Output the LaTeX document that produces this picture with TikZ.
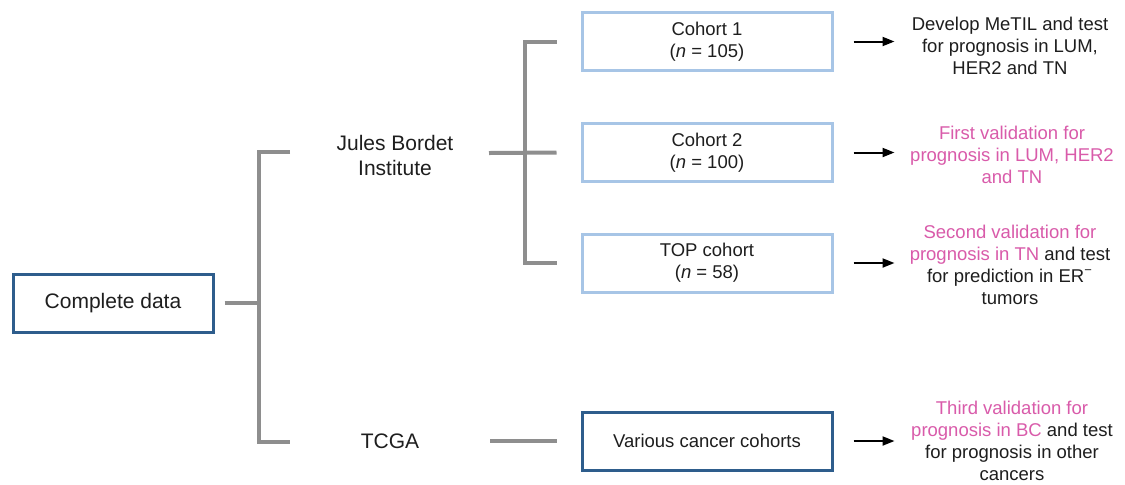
\documentclass[tikz,border=0pt]{standalone}
\usepackage{fontspec}
\setmainfont{Liberation Sans}
\usetikzlibrary{arrows.meta}
\definecolor{bg}{HTML}{FFFFFF}
\definecolor{stemgray}{HTML}{8E8E8E}
\definecolor{darkblue}{HTML}{2E5D8C}
\definecolor{lightblue}{HTML}{A7C5E6}
\definecolor{pinktext}{HTML}{D95BAA}
\definecolor{ink}{HTML}{1E1E1E}
\tikzset{
  stem/.style={draw=stemgray, line width=2pt},
  darkbox/.style={draw=darkblue, line width=1.5pt, minimum height=29pt, inner sep=0pt, align=center, text=ink},
  lightbox/.style={draw=lightblue, line width=1.5pt, minimum width=125pt, minimum height=29pt, inner sep=0pt, align=center, text=ink},
  big/.style={font=\fontsize{10.5}{12.5}\selectfont, text=ink, align=center, inner sep=0pt},
  small/.style={font=\fontsize{9.25}{11}\selectfont},
  note/.style={small, text=ink, align=center, inner sep=0pt},
  arr/.style={draw=black, line width=1pt, -{Triangle[length=6pt,width=4.5pt]}},
}

\begin{document}
\begin{tikzpicture}[x=0.5pt,y=-0.5pt]
  \useasboundingbox[fill=bg] (0,0) rectangle (1125,484);

  % left box and source labels
  \node[darkbox, big, minimum width=100pt] (cd) at (113,303) {Complete data};
  \node[big] (jb) at (395,155) {Jules Bordet\\Institute};
  \node[big] (tcga) at (390,441) {TCGA};

  % cohort boxes
  \node[lightbox, small] (c1) at (707,41.5) {Cohort 1\\(\textit{n} = 105)};
  \node[lightbox, small] (c2) at (707,152.5) {Cohort 2\\(\textit{n} = 100)};
  \node[lightbox, small] (top) at (707,263) {TOP cohort\\(\textit{n} = 58)};
  \node[darkbox, small, minimum width=125pt] (vc) at (707,441) {Various cancer cohorts};

  % outcome texts
  \node[note] (t1) at (1010,46) {Develop MeTIL and test\\for prognosis in LUM,\\HER2 and TN};
  \node[note, text=pinktext] (t2) at (1012,155) {First validation for\\prognosis in LUM, HER2\\and TN};
  \node[note] (t3) at (1010,265) {\color{pinktext}Second validation for\\\color{pinktext}prognosis in TN \color{ink}and test\\for prediction in ER\textsuperscript{\char"2212}\\tumors};
  \node[note] (t4) at (1012,441) {\color{pinktext}Third validation for\\\color{pinktext}prognosis in BC \color{ink}and test\\for prognosis in other\\cancers};

  % first bracket
  \coordinate (b1) at (259,303);
  \coordinate (b1t) at (290,152);
  \coordinate (b1b) at (290,442);
  \draw[stem] ([xshift=5pt]cd.east) -- (b1);
  \draw[stem] (b1t) -- (259,152) -- (259,442) -- (b1b);

  % second bracket
  \coordinate (b2) at (525,153);
  \draw[stem] (489,153) -- ([xshift=-12pt]c2.west);
  \draw[stem] ([xshift=-12pt]c1.west) -- (525,41.5) -- (525,263) -- ([xshift=-12pt]top.west);
  \draw[stem] (490,441) -- ([xshift=-12pt]vc.west);

  % arrows to outcomes
  \foreach \b in {c1,c2,top,vc}
    \draw[arr] ([xshift=10pt]\b.east) -- ([xshift=30.5pt]\b.east);
\end{tikzpicture}
\end{document}
